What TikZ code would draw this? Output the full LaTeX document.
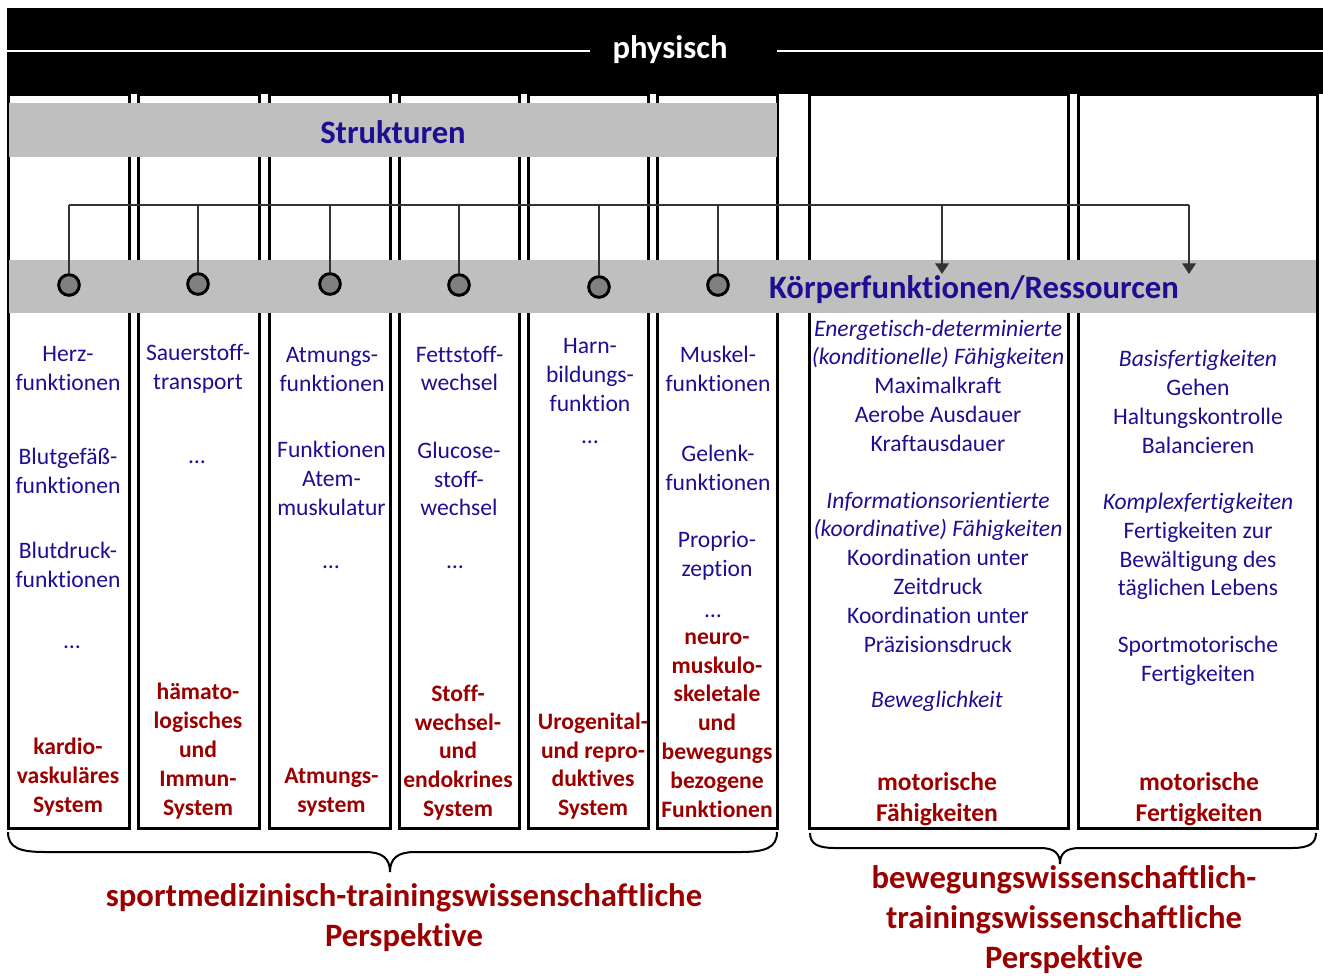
\documentclass[tikz,border=0pt]{standalone}
\usepackage{fontspec}
\setmainfont{Carlito}[Ligatures={NoCommon}]
\usetikzlibrary{arrows.meta}
\definecolor{txtblue}{RGB}{30,14,145}
\definecolor{dred}{RGB}{155,0,0}
\definecolor{bandgray}{RGB}{191,191,191}
\definecolor{dotgray}{RGB}{128,128,128}
\definecolor{linegray}{RGB}{51,51,51}
\newcommand\colfont{\fontsize{17.7}{21.6}\selectfont}
\newcommand\bigfont{\fontsize{24.5}{30}\selectfont}
\newcommand\redfont{\fontsize{19.2}{23.25}\selectfont}
\begin{document}
\begin{tikzpicture}[x=0.75pt,y=-0.75pt,
  bt/.style={text=txtblue, font=\colfont, align=center, inner sep=0pt},
  bi/.style={bt, font=\colfont\itshape},
  rt/.style={text=dred, font=\colfont\bfseries, align=center, inner sep=0pt},
  rtl/.style={rt, font=\redfont\bfseries},
  hd/.style={font=\bigfont\bfseries, inner sep=0pt},
  persp/.style={text=dred, font=\bigfont\bfseries, align=center, inner sep=0pt},
  colbox/.style={draw=black, line width=2.25pt},
  band/.style={fill=bandgray},
  conn/.style={draw=linegray, line width=1.8pt},
  dot/.style={circle, draw=black, line width=2.2pt, fill=dotgray, minimum size=15.5pt, inner sep=0pt},
  brc/.style={draw=black, line width=1.5pt}]
\useasboundingbox (0,0) rectangle (1323,975);

% column boxes
\draw[colbox] (8,94) rectangle (129,828);
\draw[colbox] (138,94) rectangle (259,828);
\draw[colbox] (269,94) rectangle (390,828);
\draw[colbox] (399,94) rectangle (519,828);
\draw[colbox] (528,94) rectangle (648,828);
\draw[colbox] (657,94) rectangle (777,828);
\draw[colbox] (809,94) rectangle (1068,828);
\draw[colbox] (1078,94) rectangle (1317,828);

% header band
\fill[black] (7,8) rectangle (1323,94);
\draw[white, line width=1.1pt] (7,51) -- (590,51);
\draw[white, line width=1.1pt] (777,51) -- (1323,51);
\node[hd, text=white] (phys) at (670,50) {physisch};

% gray bands
\fill[band] (9,103) rectangle (777,157);
\node[hd, text=txtblue] (strukt) at (393,132) {Strukturen};
\fill[band] (9,260) rectangle (1316,313);

% tree
\coordinate (j1) at (69,205);
\coordinate (j2) at (198,205);
\coordinate (j3) at (330,205);
\coordinate (j4) at (459,205);
\coordinate (j5) at (599,205);
\coordinate (j6) at (718,205);
\coordinate (j7) at (942,205);
\coordinate (j8) at (1189,205);
\coordinate (a7) at (942,274);
\coordinate (a8) at (1189,274);
\node[dot] (d1) at (69,285) {};
\node[dot] (d2) at (198,284) {};
\node[dot] (d3) at (330,284) {};
\node[dot] (d4) at (459,285) {};
\node[dot] (d5) at (599,287) {};
\node[dot] (d6) at (718,285) {};
\draw[conn] (j1) -- (j8);
\draw[conn] (j1) -- (d1);
\draw[conn] (j2) -- (d2);
\draw[conn] (j3) -- (d3);
\draw[conn] (j4) -- (d4);
\draw[conn] (j5) -- (d5);
\draw[conn] (j6) -- (d6);
\draw[conn, -{Triangle[length=8pt,width=10pt]}] (j7) -- (a7);
\draw[conn, -{Triangle[length=8pt,width=10pt]}] (j8) -- (a8);
\node[hd, text=txtblue] (koerp) at (974,290) {Körperfunktionen/Ressourcen};

% column 1
\node[bt] (c1a) at (68,368.5) {Herz-\\funktionen};
\node[bt] (c1b) at (68,471) {Blutgefäß-\\funktionen};
\node[bt] (c1c) at (68,565) {Blutdruck-\\funktionen};
\node[bt] (c1d) at (72,647) {…};
\node[rt] (c1r) at (68,777) {kardio-\\vaskuläres\\System};
% column 2
\node[bt] (c2a) at (198,368.5) {Sauerstoff-\\transport};
\node[bt] (c2b) at (197,462) {…};
\node[rt] (c2r) at (198,751) {hämato-\\logisches\\und\\Immun-\\System};
% column 3
\node[bt] (c3a) at (332,369.5) {Atmungs-\\funktionen};
\node[bt] (c3b) at (331.5,478.5) {Funktionen\\Atem-\\muskulatur};
\node[bt] (c3c) at (331,567) {…};
\node[rt] (c3r) at (331.5,792.5) {Atmungs-\\system};
% column 4
\node[bt] (c4a) at (459.5,368.5) {Fettstoff-\\wechsel};
\node[bt] (c4b) at (459,479) {Glucose-\\stoff-\\wechsel};
\node[bt] (c4c) at (455,567) {…};
\node[rt] (c4r) at (458,752.5) {Stoff-\\wechsel-\\und\\endokrines\\System};
% column 5
\node[bt] (c5a) at (590,375) {Harn-\\bildungs-\\funktion};
\node[bt] (c5b) at (590,442) {…};
\node[rt] (c5r) at (593,766) {Urogenital-\\und repro-\\duktives\\System};
% column 6
\node[bt] (c6a) at (718,368.5) {Muskel-\\funktionen};
\node[bt] (c6b) at (718,467.5) {Gelenk-\\funktionen};
\node[bt] (c6c) at (717,555.5) {Proprio-\\zeption};
\node[bt] (c6d) at (713,616) {…};
\node[rt] (c6r) at (717,725) {neuro-\\muskulo-\\skeletale\\und\\bewegungs\\bezogene\\Funktionen};
% column 7
\node[bt] (c7a) at (938,385.5) {\textit{Energetisch-determinierte}\\\textit{(konditionelle) Fähigkeiten}\\Maximalkraft\\Aerobe Ausdauer\\Kraftausdauer};
\node[bt] (c7b) at (938,572) {\textit{Informationsorientierte}\\\textit{(koordinative) Fähigkeiten}\\Koordination unter\\Zeitdruck\\Koordination unter\\Präzisionsdruck};
\node[bi] (c7c) at (937,701.5) {Beweglichkeit};
\node[rtl] (c7r) at (937,799) {motorische\\Fähigkeiten};
% column 8
\node[bt] (c8a) at (1198,402) {\textit{Basisfertigkeiten}\\Gehen\\Haltungskontrolle\\Balancieren};
\node[bt] (c8b) at (1198,546.5) {\textit{Komplexfertigkeiten}\\Fertigkeiten zur\\Bewältigung des\\täglichen Lebens};
\node[bt] (c8c) at (1198,660.5) {Sportmotorische\\Fertigkeiten};
\node[rtl] (c8r) at (1199,799) {motorische\\Fertigkeiten};

% braces
\draw[brc] (8,832) .. controls (8,848) and (20,852) .. (45,852) -- (365,852)
  .. controls (382,852) and (390,858) .. (390,872)
  .. controls (390,858) and (398,852) .. (415,852) -- (740,852)
  .. controls (765,852) and (777,848) .. (777,832);
\draw[brc] (810,833) .. controls (810,844) and (818,848) .. (835,848) -- (1040,848)
  .. controls (1054,848) and (1060,853) .. (1060,864)
  .. controls (1060,853) and (1066,848) .. (1080,848) -- (1292,848)
  .. controls (1308,848) and (1316,844) .. (1316,833);

% perspectives
\node[persp] (p1) at (404,918) {sportmedizinisch-trainingswissenschaftliche\\Perspektive};
\node[persp] (p2) at (1064,920) {bewegungswissenschaftlich-\\trainingswissenschaftliche\\Perspektive};
\end{tikzpicture}
\end{document}
